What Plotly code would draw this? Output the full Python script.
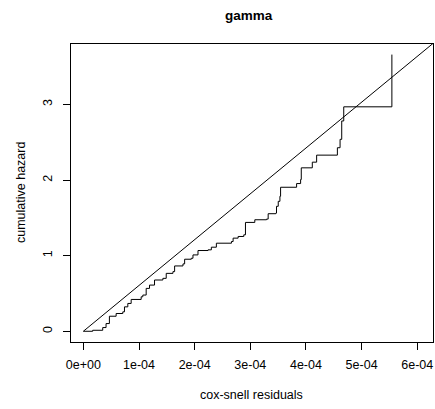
import plotly.graph_objects as go

# Step points of the cumulative hazard (x in units of 1e-4)
resid_e4 = [0.0, 0.168, 0.348, 0.408, 0.468, 0.589, 0.709, 0.739, 0.799, 0.859,
            1.039, 1.069, 1.129, 1.189, 1.279, 1.429, 1.489, 1.610, 1.640, 1.790,
            1.820, 1.940, 1.970, 2.060, 2.240, 2.300, 2.390, 2.661, 2.691, 2.781,
            2.883, 2.913, 3.081, 3.291, 3.321, 3.459, 3.471, 3.502, 3.532, 3.544,
            3.832, 3.904, 3.916, 4.114, 4.192, 4.565, 4.613, 4.643, 4.679, 5.544]
cum_hazard = [0.0, 0.013, 0.049, 0.102, 0.199, 0.235, 0.257, 0.323, 0.368, 0.421,
              0.456, 0.479, 0.567, 0.611, 0.678, 0.700, 0.766, 0.789, 0.864, 0.891,
              0.953, 0.966, 1.010, 1.068, 1.077, 1.112, 1.165, 1.187, 1.232, 1.254,
              1.276, 1.440, 1.475, 1.484, 1.555, 1.564, 1.653, 1.719, 1.786, 1.905,
              1.954, 2.007, 2.162, 2.237, 2.330, 2.428, 2.539, 2.782, 2.969, 3.660]

# Reference line through origin
ref_slope = 6060.0
ref_x = [0.0, 6.5e-4]

x_ticks = [0, 1e-4, 2e-4, 3e-4, 4e-4, 5e-4, 6e-4]
x_tick_labels = ["0e+00", "1e-04", "2e-04", "3e-04", "4e-04", "5e-04", "6e-04"]
y_ticks = [0, 1, 2, 3]
y_tick_labels = ["0", "1", "2", "3"]

resid = [v * 1e-4 for v in resid_e4]

FONT = "Liberation Sans, Arial, sans-serif"
W, H = 435, 409
ML, MR, MT, MB = 71, 2, 44, 67
PW = W - ML - MR
PH = H - MT - MB


def px_x(px):
    return (px - ML) / PW


def px_y(py):
    return (H - MB - py) / PH


fig = go.Figure()
fig.add_trace(go.Scatter(x=resid, y=cum_hazard, mode="lines", line_shape="hv",
                         line=dict(color="black", width=1), hoverinfo="skip"))
fig.add_trace(go.Scatter(x=ref_x, y=[ref_slope * v for v in ref_x], mode="lines",
                         line=dict(color="black", width=1), hoverinfo="skip"))

fig.update_layout(
    width=W, height=H,
    margin=dict(l=ML, r=MR, t=MT, b=MB),
    paper_bgcolor="white", plot_bgcolor="white",
    showlegend=False,
    font=dict(family=FONT, size=12.5, color="black"),
    xaxis=dict(range=[-0.222e-4, 6.283e-4], tickvals=x_ticks, ticktext=x_tick_labels,
               showgrid=False, zeroline=False, showline=True, mirror=True,
               linecolor="black", linewidth=1, ticks="outside", ticklen=7,
               tickcolor="black", tickwidth=1, ticklabelstandoff=4),
    yaxis=dict(range=[-0.142, 3.80], tickvals=y_ticks, ticktext=y_tick_labels,
               showgrid=False, zeroline=False, showline=True, mirror=True,
               linecolor="black", linewidth=1, ticks="outside", ticklen=7,
               tickcolor="black", tickwidth=1, tickangle=-90, ticklabelstandoff=6),
    annotations=[
        dict(text="<b>gamma</b>", x=px_x(249), y=px_y(16), xref="paper", yref="paper",
             showarrow=False, font=dict(size=13.5), xanchor="center", yanchor="middle"),
        dict(text="cox-snell residuals", x=px_x(251.5), y=px_y(395), xref="paper", yref="paper",
             showarrow=False, xanchor="center", yanchor="middle"),
        dict(text="cumulative hazard", x=px_x(21), y=px_y(193), xref="paper", yref="paper",
             showarrow=False, textangle=-90, xanchor="center", yanchor="middle"),
    ],
)

fig.write_html("out.html")
